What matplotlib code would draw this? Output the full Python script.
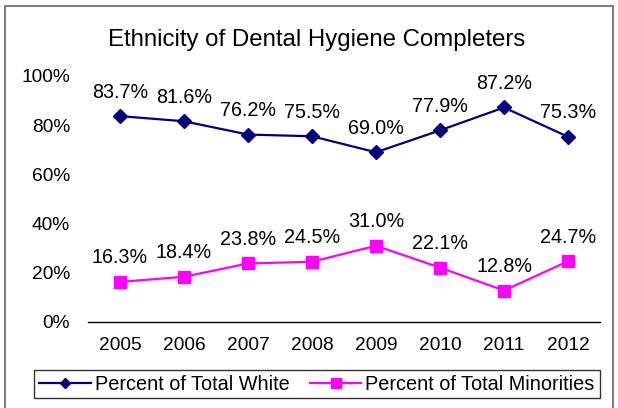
import matplotlib
matplotlib.use("Agg")
import matplotlib.pyplot as plt
from matplotlib.patches import Rectangle
from matplotlib.ticker import PercentFormatter

plt.rcParams['font.family'] = ['Liberation Sans', 'DejaVu Sans']

years = ["2005", "2006", "2007", "2008", "2009", "2010", "2011", "2012"]
white = [83.7, 81.6, 76.2, 75.5, 69.0, 77.9, 87.2, 75.3]
minorities = [16.3, 18.4, 23.8, 24.5, 31.0, 22.1, 12.8, 24.7]
yticks = [0, 20, 40, 60, 80, 100]

W, H = 618, 408
fig = plt.figure(figsize=(W / 100, H / 100), dpi=100)
ax = fig.add_axes([88 / W, 1 - 322 / H, (600 - 88) / W, (322 - 76) / H])

x = list(range(len(years)))
ax.plot(x, white, color="#000080", lw=1.6, marker="D", ms=7,
        label="Percent of Total White")
ax.plot(x, minorities, color="#FF00FF", lw=1.6, marker="s", ms=9,
        label="Percent of Total Minorities")

for xi, v in zip(x, white):
    ax.annotate(f"{v:.1f}%", (xi, v), xytext=(0, 24), textcoords="offset pixels",
                ha="center", va="center", fontsize=14.2)
for xi, v in zip(x, minorities):
    ax.annotate(f"{v:.1f}%", (xi, v), xytext=(0, 24), textcoords="offset pixels",
                ha="center", va="center", fontsize=14.2)

ax.set_xlim(-0.5, len(years) - 0.5)
ax.set_ylim(0, 100)
ax.set_yticks(yticks)
ax.yaxis.set_major_formatter(PercentFormatter(decimals=0))
ax.set_xticks(x)
ax.set_xticklabels(years)
ax.tick_params(axis="both", length=0, labelsize=13.8)
ax.tick_params(axis="y", pad=13)
ax.tick_params(axis="x", pad=11)
for s in ["top", "right", "left"]:
    ax.spines[s].set_visible(False)
ax.spines["bottom"].set_color("black")
ax.spines["bottom"].set_linewidth(1)

fig.text(317 / W, 1 - 40 / H, "Ethnicity of Dental Hygiene Completers",
         ha="center", va="center", fontsize=17.3)

leg = fig.legend(loc="center", bbox_to_anchor=(317 / W, 1 - 384 / H), ncol=2,
                 fontsize=14.3, frameon=True, fancybox=False, edgecolor="black",
                 handlelength=2.6, columnspacing=1.0, handletextpad=0.2,
                 borderpad=0.25, markerscale=0.8)
leg.get_frame().set_linewidth(1)

fig.patches.append(Rectangle((5 / W, -0.05), (613 - 5) / W, 1 - 6 / H + 0.05,
                             transform=fig.transFigure, fill=False,
                             edgecolor="#808080", lw=1.5))

fig.savefig("out.png", dpi=100)
